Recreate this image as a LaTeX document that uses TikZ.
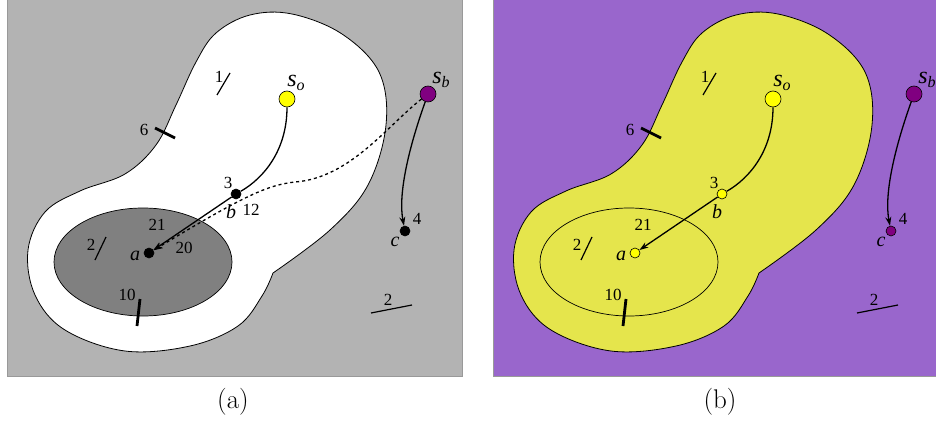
\documentclass[tikz,border=0pt]{standalone}
\usepackage{fontspec}
\newfontfamily\lab{Liberation Serif}
\usetikzlibrary{arrows.meta}
\definecolor{bggray}{HTML}{B3B3B3}
\definecolor{ellgray}{HTML}{808080}
\definecolor{bgpurple}{HTML}{9966CC}
\definecolor{blobyellow}{HTML}{E5E54C}
\definecolor{soyellow}{HTML}{FFFF00}
\definecolor{sbpurple}{HTML}{800080}
\definecolor{edgegray}{HTML}{999999}
\newcommand{\blobshape}{(273,273) plot[smooth,tension=0.6] coordinates {(273,273) (330,230) (368,185) (386,125) (379,72) (342,34) (292,14) (250,15) (216,33) (196,62) (176,105) (156,145) (125,174) (80,191) (45,212) (28,250) (35,295) (65,330) (125,351) (190,346) (238,326) (262,296) (273,273)} -- cycle}
\newcommand{\sublab}[1]{s\raisebox{-4pt}{\fontsize{16}{18}\selectfont #1}}
\begin{document}
\begin{tikzpicture}[x=1pt,y=-1pt,
  num/.style={font=\lab\fontsize{17}{19}\selectfont, inner sep=0pt},
  itl/.style={font=\lab\itshape\fontsize{20}{22}\selectfont, inner sep=0pt},
  slab/.style={font=\lab\itshape\fontsize{24}{26}\selectfont, inner sep=0pt},
  captext/.style={font=\fontsize{27}{30}\selectfont, inner sep=0pt},
  blobline/.style={draw=black, line width=0.8pt},
  thinmark/.style={line width=1.2pt},
  thickmark/.style={line width=2.8pt},
  bigdot/.style={circle, draw=black, line width=0.6pt, minimum size=16pt, inner sep=0pt},
  smalldot/.style={circle, draw=black, line width=0.6pt, minimum size=10pt, inner sep=0pt},
  conn/.style={line width=1.3pt, -{Stealth[length=9pt,width=6pt]}},
  plainconn/.style={line width=1.3pt},
  dashconn/.style={line width=1.3pt, dash pattern=on 3pt off 3pt, -{Stealth[length=9pt,width=6pt]}}]
\useasboundingbox (0,0) rectangle (936,425);

% ---------------- panel (a) ----------------
\fill[bggray] (7,0) rectangle (462,376);
\draw[edgegray, line width=0.8pt] (7,0) -- (7,376) -- (462,376) -- (462,0);
\filldraw[fill=white, blobline] \blobshape;
\filldraw[fill=ellgray, draw=black, line width=0.7pt] (143,262) ellipse [x radius=89, y radius=54];

% markers
\draw[thinmark] (217,95) -- (230,73);
\node[num] (a1) at (219,77) {1};
\draw[thickmark] (155,128) -- (175,138);
\node[num] (a6) at (144,130) {6};
\draw[thinmark] (95,260) -- (106,237);
\node[num] (a2) at (91,245) {2};
\draw[thickmark] (140,299) -- (137,326);
\node[num] (a10) at (127,295) {10};
\draw[thinmark] (371,313) -- (412,305);
\node[num] (a2b) at (388,300) {2};

% nodes
\node[bigdot, fill=soyellow] (aso) at (287,99) {};
\node[bigdot, fill=sbpurple] (asb) at (428,94) {};
\node[smalldot, fill=black] (ab) at (236,194) {};
\node[smalldot, fill=black] (aa) at (149,253) {};
\node[smalldot, fill=black] (ac) at (405,231) {};

\node[slab] (asol) at (296,83) {\sublab{o}};
\node[slab] (asbl) at (441,80) {\sublab{b}};
\node[num] (a3) at (228,183) {3};
\node[itl] (abl) at (231,212) {b};
\node[num] (a12) at (251,210) {12};
\node[itl] (aal) at (135,256) {a};
\node[num] (a21) at (157,225) {21};
\node[num] (a20) at (184,248) {20};
\node[itl] (acl) at (395,242) {c};
\node[num] (a4) at (417,219) {4};

% connectors
\draw[plainconn] (aso) .. controls (287,150) and (264,178) .. (ab);
\draw[conn] (ab) -- (aa);
\draw[dashconn] (asb) .. controls (388,125) and (350,178) .. (295,182) .. controls (268,185) and (245,195) .. (aa);
\draw[conn] (asb) .. controls (408,150) and (398,195) .. (ac);

\node[captext] (capa) at (233,402) {(a)};

% ---------------- panel (b) ----------------
\fill[bgpurple] (493,0) rectangle (936,376);
\draw[edgegray, line width=0.8pt] (493,0) -- (493,376) -- (936,376);
\begin{scope}[xshift=486pt]
\filldraw[fill=blobyellow, blobline] \blobshape;
\draw[black, line width=0.7pt] (143,262) ellipse [x radius=89, y radius=54];

\draw[thinmark] (217,95) -- (230,73);
\node[num] (b1) at (219,77) {1};
\draw[thickmark] (155,128) -- (175,138);
\node[num] (b6) at (144,130) {6};
\draw[thinmark] (95,260) -- (106,237);
\node[num] (b2) at (91,245) {2};
\draw[thickmark] (140,299) -- (137,326);
\node[num] (b10) at (127,295) {10};
\draw[thinmark] (371,313) -- (412,305);
\node[num] (b2b) at (388,300) {2};

\node[bigdot, fill=soyellow] (bso) at (287,99) {};
\node[bigdot, fill=sbpurple] (bsb) at (428,94) {};
\node[smalldot, fill=soyellow] (bb) at (236,194) {};
\node[smalldot, fill=soyellow] (ba) at (149,253) {};
\node[smalldot, fill=sbpurple] (bc) at (405,231) {};

\node[slab] (bsol) at (296,83) {\sublab{o}};
\node[slab] (bsbl) at (441,80) {\sublab{b}};
\node[num] (b3) at (228,183) {3};
\node[itl] (bbl) at (231,212) {b};
\node[itl] (bal) at (135,256) {a};
\node[num] (b21) at (157,225) {21};
\node[itl] (bcl) at (395,242) {c};
\node[num] (b4) at (417,219) {4};

\draw[plainconn] (bso) .. controls (287,150) and (264,178) .. (bb);
\draw[conn] (bb) -- (ba);
\draw[conn] (bsb) .. controls (408,150) and (398,195) .. (bc);

\node[captext] (capb) at (234,402) {(b)};
\end{scope}
\end{tikzpicture}
\end{document}
